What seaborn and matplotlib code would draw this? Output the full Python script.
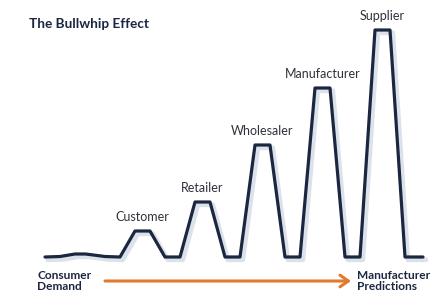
import matplotlib
matplotlib.use("Agg")
import matplotlib.pyplot as plt
import matplotlib.patheffects as pe
import seaborn as sns

# time steps along the chain and the demand signal (baseline = 0)
t_steps = [0, 1, 2, 2.7, 4, 5,
           6, 7, 8, 9,
           10, 11, 12, 13,
           14, 15, 16, 17,
           18, 19, 20, 21,
           22, 23, 24, 25.2]
demand = [0, 0.5, 3, 3, 0.5, 0,
          26, 26, 0, 0,
          55, 55, 0, 0,
          112, 112, 0, 0,
          169, 169, 0, 0,
          227, 227, 0, 0]

stages = ["Customer", "Retailer", "Wholesaler", "Manufacturer", "Supplier"]
stage_t = [6.5, 10.5, 14.5, 18.5, 22.5]
stage_peak = [26, 55, 112, 169, 227]

navy = "#1b2640"
orange = "#e07a2c"

sns.set_theme(style="white")
plt.rcParams["font.family"] = ["Lato", "DejaVu Sans"]

fig = plt.figure(figsize=(4.46, 3.0), dpi=100)
ax = fig.add_axes([0, 0, 1, 1])

sns.lineplot(x=t_steps, y=demand, sort=False, estimator=None, ax=ax,
             color=navy, linewidth=2.3,
             path_effects=[pe.SimpleLineShadow(offset=(2, -2), shadow_color="#a9b8cc",
                                               alpha=0.4, linewidth=3.5),
                           pe.Normal()])

for name, t, h in zip(stages, stage_t, stage_peak):
    ax.annotate(name, xy=(t, h), xytext=(0, 7), textcoords="offset points",
                ha="center", va="baseline", fontsize=9, color="#2e323a")

ax.set_xlim(-3, 401 / 15)
ax.set_ylim(-43, 257)
ax.axis("off")

fig.text(29 / 446, 1 - 24 / 300, "The Bullwhip Effect", fontsize=9.8, fontweight="bold",
         color=navy, ha="left", va="center")
fig.text(37 / 446, 1 - 281 / 300, "Consumer\nDemand", fontsize=8.6, fontweight="bold",
         color=navy, ha="left", va="center", linespacing=1.1)
fig.text(357 / 446, 1 - 281 / 300, "Manufacturer\nPredictions", fontsize=8.6, fontweight="bold",
         color=navy, ha="left", va="center", linespacing=1.1)

ax.annotate("", xy=(351 / 446, 1 - 281 / 300), xytext=(105 / 446, 1 - 281 / 300),
            xycoords="figure fraction", textcoords="figure fraction",
            arrowprops=dict(arrowstyle="->,head_length=0.5,head_width=0.35",
                            color=orange, lw=2.2, shrinkA=0, shrinkB=0))

fig.savefig("out.png", dpi=100)
